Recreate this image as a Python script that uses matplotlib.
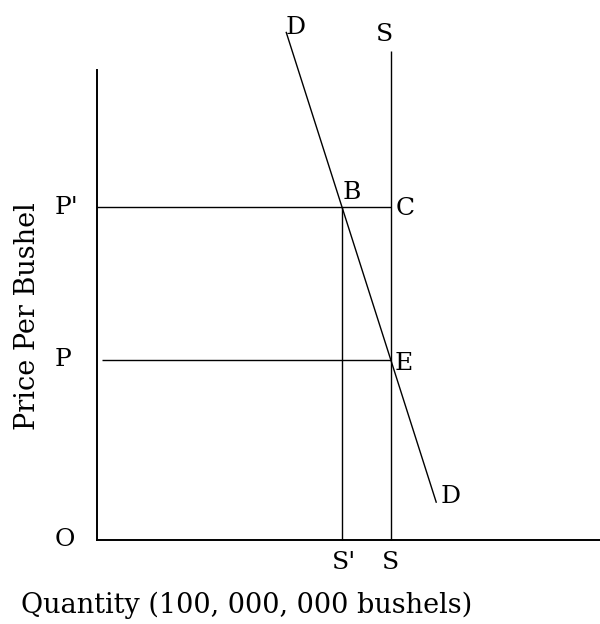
import matplotlib
matplotlib.use('Agg')
import matplotlib.pyplot as plt

plt.rcParams.update({
    "font.family": "DejaVu Serif",
    "font.size": 18,
})

# quantities (100,000,000 bushels) and prices, in chart units
q_short = 5.0        # S'
q_supply = 6.0       # S
p_low = 3.0          # P
p_high = 5.55        # P'
supply_top = 8.15
axis_q_max = 10.27
axis_p_max = 7.83

# demand curve end points
demand_q = [3.86, 6.93]
demand_p = [8.47, 0.62]

fig = plt.figure(figsize=(6.0, 6.24), dpi=100)
ax = fig.add_axes([97 / 600, 84 / 624, 503 / 600, 540 / 624])
ax.set_xlim(0, axis_q_max)
ax.set_ylim(0, 9.0)
ax.axis("off")

kw = dict(color="black", lw=1.0, clip_on=False, solid_capstyle="butt")

# axes
ax.plot([0, 0], [0, axis_p_max], color="black", lw=1.4, clip_on=False)
ax.plot([0, axis_q_max], [0, 0], color="black", lw=1.4, clip_on=False)

# supply line and reduced supply
ax.plot([q_supply, q_supply], [0, supply_top], **kw)
ax.plot([q_short, q_short], [0, p_high], **kw)

# price lines
ax.plot([0, q_supply], [p_high, p_high], **kw)
ax.plot([0.1, q_supply], [p_low, p_low], **kw)

# demand
ax.plot(demand_q, demand_p, **kw)

# point and line labels
ax.text(-0.86, p_high, "P'", ha="left", va="center")
ax.text(-0.86, p_low, "P", ha="left", va="center")
ax.text(-0.86, 0.0, "O", ha="left", va="center")
ax.text(q_short + 0.02, p_high + 0.05, "B", ha="left", va="bottom")
ax.text(q_supply + 0.1, p_high - 0.03, "C", ha="left", va="center")
ax.text(q_supply + 0.08, p_low - 0.05, "E", ha="left", va="center")
ax.text(demand_q[0], demand_p[0] + 0.08, "D", ha="left", va="center")
ax.text(demand_q[1] + 0.08, demand_p[1] + 0.1, "D", ha="left", va="center")
ax.text(q_supply - 0.13, supply_top + 0.27, "S", ha="center", va="center")
ax.text(q_short + 0.05, -0.38, "S'", ha="center", va="center")
ax.text(q_supply, -0.38, "S", ha="center", va="center")

fig.text(247 / 600, 1 - 605 / 624, "Quantity (100, 000, 000 bushels)",
         ha="center", va="center", fontsize=19.5)
fig.text(28 / 600, 1 - 316 / 624, "Price Per Bushel", rotation=90,
         ha="center", va="center", fontsize=19.5)

fig.savefig("out.png", dpi=100)
